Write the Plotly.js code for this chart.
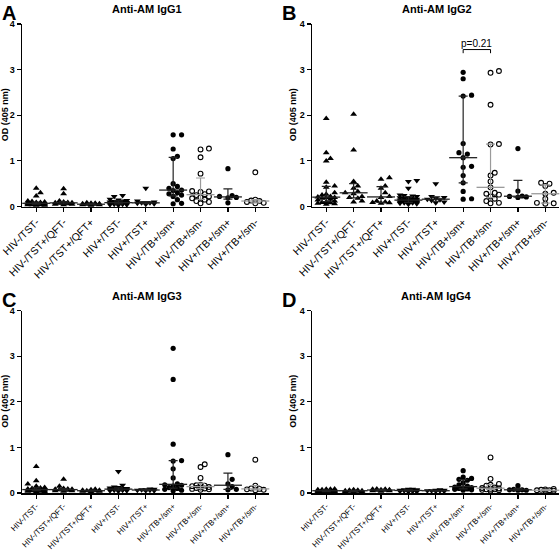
<!DOCTYPE html>
<html><head><meta charset="utf-8">
<script src="https://cdn.plot.ly/plotly-3.0.1.min.js"></script>
<style>html,body{margin:0;padding:0;background:#fff}#chart{width:560px;height:553px}</style>
</head><body><div id="chart"></div>
<script>
// ---- categories & labels ----
const categories = ["HIV-/TST-","HIV-/TST+/QFT-","HIV-/TST+/QFT+","HIV+/TST-","HIV+/TST+","HIV-/TB+/sm+","HIV-/TB+/sm-","HIV+/TB+/sm+","HIV+/TB+/sm-"];
const symbols = ["triangle-up","triangle-up","triangle-up","triangle-down","triangle-down","circle","circle-open","circle","circle-open"];
const panelTitles = ["Anti-AM IgG1","Anti-AM IgG2","Anti-AM IgG3","Anti-AM IgG4"];
const panelLetters = ["A","B","C","D"];
const yTicks = [0,1,2,3,4];

// ---- data (OD 405 nm), one list per group ----
const igg1 = [
 [0.40,0.30,0.23,0.12,0.11,0.10,0.09,0.09,0.08,0.08,0.07,0.07,0.07,0.06,0.06,0.06,0.05,0.05,0.05,0.04,0.04,0.04,0.03,0.03],
 [0.39,0.28,0.12,0.10,0.09,0.08,0.08,0.07,0.07,0.06,0.05,0.05,0.04],
 [0.08,0.07,0.07,0.06,0.06,0.05,0.05,0.05,0.04,0.04,0.03],
 [0.24,0.22,0.16,0.14,0.13,0.12,0.11,0.10,0.10,0.09,0.09,0.08,0.08,0.07,0.07,0.06,0.06,0.05,0.05,0.04,0.04,0.03],
 [0.40,0.12,0.10,0.09,0.08,0.08,0.07,0.06,0.05],
 [1.57,1.57,1.26,1.10,1.05,0.50,0.44,0.40,0.36,0.35,0.30,0.28,0.25,0.22,0.15,0.07,0.06],
 [1.27,1.25,1.08,0.72,0.34,0.33,0.32,0.27,0.25,0.22,0.20,0.18,0.15,0.12,0.10,0.07],
 [0.83,0.24,0.22,0.20,0.19,0.08],
 [0.75,0.15,0.13,0.12,0.10,0.08,0.07]
];
const igg2 = [
 [1.93,1.18,1.05,1.00,0.53,0.45,0.42,0.30,0.27,0.25,0.22,0.21,0.20,0.19,0.18,0.16,0.14,0.12,0.10,0.09,0.08,0.07,0.06,0.05],
 [2.02,1.24,0.55,0.45,0.40,0.33,0.30,0.28,0.22,0.20,0.18,0.12,0.10],
 [0.63,0.60,0.45,0.40,0.30,0.22,0.20,0.12,0.10,0.09,0.08,0.07],
 [0.57,0.55,0.40,0.25,0.24,0.23,0.22,0.20,0.19,0.18,0.17,0.16,0.15,0.14,0.14,0.13,0.12,0.12,0.11,0.10,0.10,0.09,0.09,0.08,0.08,0.07,0.06,0.05],
 [0.50,0.22,0.20,0.18,0.16,0.15,0.13,0.10,0.08],
 [2.94,2.80,2.44,2.42,1.38,1.18,1.15,1.07,0.88,0.86,0.68,0.52,0.33,0.17,0.16],
 [2.97,2.93,2.23,1.37,1.36,0.74,0.68,0.55,0.42,0.30,0.28,0.26,0.22,0.17,0.12,0.08,0.07],
 [1.27,0.34,0.23,0.22,0.21,0.20],
 [0.52,0.50,0.45,0.30,0.28,0.17,0.08,0.07,0.06]
];
const igg3 = [
 [0.58,0.27,0.20,0.15,0.12,0.11,0.10,0.09,0.09,0.08,0.08,0.07,0.07,0.06,0.06,0.05,0.05,0.05,0.04,0.04,0.03,0.03],
 [0.30,0.15,0.10,0.09,0.08,0.08,0.07,0.07,0.06,0.05,0.05,0.04],
 [0.08,0.07,0.06,0.06,0.05,0.05,0.05,0.04,0.04,0.03],
 [0.47,0.17,0.13,0.12,0.11,0.10,0.10,0.09,0.09,0.08,0.08,0.07,0.07,0.06,0.06,0.05,0.05,0.04],
 [0.09,0.08,0.07,0.07,0.06,0.06,0.05,0.05],
 [3.17,2.49,1.07,0.71,0.70,0.53,0.33,0.20,0.18,0.17,0.15,0.12,0.10,0.08,0.06,0.05],
 [0.63,0.57,0.33,0.18,0.17,0.16,0.15,0.13,0.12,0.11,0.10,0.09,0.08,0.07],
 [0.84,0.30,0.20,0.14,0.08,0.07],
 [0.73,0.16,0.10,0.09,0.08,0.07,0.06]
];
const igg4 = [
 [0.09,0.08,0.08,0.07,0.07,0.06,0.06,0.06,0.05,0.05,0.05,0.04,0.04,0.04,0.03,0.03,0.03,0.02,0.02],
 [0.07,0.06,0.06,0.05,0.05,0.05,0.04,0.04,0.03,0.03,0.02],
 [0.09,0.08,0.08,0.07,0.07,0.06,0.06,0.05,0.05,0.04],
 [0.08,0.08,0.07,0.07,0.06,0.06,0.06,0.05,0.05,0.05,0.04,0.04,0.03,0.03],
 [0.07,0.06,0.06,0.05,0.05,0.05,0.04,0.04],
 [0.49,0.35,0.32,0.30,0.28,0.22,0.18,0.15,0.13,0.12,0.11,0.10,0.09,0.08,0.07,0.06],
 [0.78,0.31,0.20,0.18,0.16,0.12,0.11,0.10,0.09,0.08,0.08,0.07,0.06,0.05],
 [0.16,0.08,0.07,0.07,0.06,0.06],
 [0.09,0.08,0.07,0.06,0.06,0.05,0.05]
];
const panels = [igg1, igg2, igg3, igg4];
const pLabel = "p=0.21";
const pBracket = {from: 5, to: 6, y: 3.44, drop: 0.08};

// ---- geometry ----
const W = 560, H = 553;
const xRange = [-0.52, 8.5];
const colsPx = [[22, 269], [312, 559]];
const rowsPx = [[24, 206.5], [310.5, 493]];
const xTickSize = [10.5, 8];
const pxPerCat = (colsPx[0][1]-colsPx[0][0])/(xRange[1]-xRange[0]);
const pxPerUnit = (rowsPx[0][1]-rowsPx[0][0])/4;
const FONT = 'Liberation Sans, Arial, sans-serif';

function quart(arr, p){
  const s=[...arr].sort((a,b)=>a-b), n=s.length, pos=(n+1)*p, lo=Math.floor(pos), f=pos-lo;
  if(lo<1) return s[0]; if(lo>=n) return s[n-1];
  return s[lo-1]+f*(s[lo]-s[lo-1]);
}
function swarm(vals){
  const D=4.6, step=4.2, maxOff=10;
  const order=vals.map((v,i)=>i).sort((a,b)=>vals[a]-vals[b]);
  const placed=[], offs=new Array(vals.length);
  const cands=[0]; for(let k=1;k*step<=maxOff;k++){cands.push(k*step,-k*step);}
  for(const idx of order){
    const y=vals[idx]*pxPerUnit; let best=0, bestD=-1;
    for(const c of cands){
      let md=1e9; for(const p of placed){const d=Math.hypot(p[0]-c,p[1]-y); if(d<md) md=d;}
      if(md>=D){best=c; bestD=md; break;}
      if(md>bestD){bestD=md; best=c;}
    }
    placed.push([best,y]); offs[idx]=best/pxPerCat;
  }
  return offs;
}

const traces=[], annotations=[];
const layout={width:W,height:H,margin:{l:0,r:0,t:0,b:0},showlegend:false,
  paper_bgcolor:'#fff',plot_bgcolor:'rgba(0,0,0,0)',font:{family:FONT,color:'#000'},
  annotations};

panels.forEach((data,pi)=>{
  const col=pi%2, row=Math.floor(pi/2);
  const xa='x'+(pi?pi+1:''), ya='y'+(pi?pi+1:'');
  const xk='xaxis'+(pi?pi+1:''), yk='yaxis'+(pi?pi+1:'');
  layout[xk]={domain:[colsPx[col][0]/W, colsPx[col][1]/W], range:xRange, anchor:ya,
    tickvals:categories.map((c,i)=>i), ticktext:categories, tickangle:-45,
    tickfont:{size:xTickSize[row],family:FONT,color:'#000'}, ticks:'outside', ticklen:4, tickwidth:1.2, tickcolor:'#000',
    showline:true, linewidth:1.5, linecolor:'#000', showgrid:false, zeroline:false, fixedrange:true};
  layout[yk]={domain:[1-rowsPx[row][1]/H, 1-rowsPx[row][0]/H], range:[0,4], anchor:xa,
    tickvals:yTicks, ticks:'outside', ticklen:4, tickwidth:1.2, tickcolor:'#000',
    tickfont:{size:9,weight:'bold',family:FONT,color:'#000'}, showline:true, linewidth:1.5, linecolor:'#000',
    showgrid:false, zeroline:false, fixedrange:true};
  data.forEach((vals,gi)=>{
    const offs=swarm(vals);
    const open=symbols[gi].includes('open');
    traces.push({type:'scatter',mode:'markers',xaxis:xa,yaxis:ya,cliponaxis:false,
      x:vals.map((v,k)=>gi+offs[k]), y:vals,
      marker:{symbol:symbols[gi], size:symbols[gi].startsWith('tri')?6:(open?4.8:5.2), color:'#000',
        line:{color:'#000',width:open?1.1:0}}});
    const med=quart(vals,0.5), q1=quart(vals,0.25), q3=quart(vals,0.75);
    const ec=open?'#9a9a9a':'#222';
    traces.push({type:'scatter',mode:'markers',xaxis:xa,yaxis:ya,cliponaxis:false,
      x:[gi], y:[med],
      marker:{symbol:'line-ew',size:20,color:ec,line:{color:ec,width:1.3}},
      error_y:{type:'data',symmetric:false,array:[q3-med],arrayminus:[med-q1],color:ec,thickness:1.2,width:4.5}});
  });
  const cx=(colsPx[col][0]+colsPx[col][1])/2/W + 0.002;
  annotations.push({xref:'paper',yref:'paper',x:cx,y:1-(rowsPx[row][0]-7)/H,xanchor:'center',yanchor:'bottom',
    text:'<b>'+panelTitles[pi]+'</b>',showarrow:false,font:{size:11}});
  annotations.push({xref:'paper',yref:'paper',x:(col?280:0)/W,y:1-(rowsPx[row][0]-24)/H,xanchor:'left',yanchor:'top',
    text:'<b>'+panelLetters[pi]+'</b>',showarrow:false,font:{size:20}});
  annotations.push({xref:'paper',yref:'paper',x:(col?293:5)/W,y:1-((rowsPx[row][0]+rowsPx[row][1])/2)/H,
    xanchor:'center',yanchor:'middle',textangle:-90,text:'<b>OD (405 nm)</b>',showarrow:false,font:{size:9}});
});

// p-value bracket on panel B
traces.push({type:'scatter',mode:'lines',xaxis:'x2',yaxis:'y2',cliponaxis:false,
  x:[pBracket.from,pBracket.from,pBracket.to,pBracket.to],
  y:[pBracket.y-pBracket.drop,pBracket.y,pBracket.y,pBracket.y-pBracket.drop],
  line:{color:'#000',width:1}});
annotations.push({xref:'x2',yref:'y2',x:(pBracket.from+pBracket.to)/2,y:pBracket.y,yanchor:'bottom',
  text:pLabel,showarrow:false,font:{size:10},yshift:-1});

Plotly.newPlot('chart',traces,layout,{staticPlot:true});
</script></body></html>
